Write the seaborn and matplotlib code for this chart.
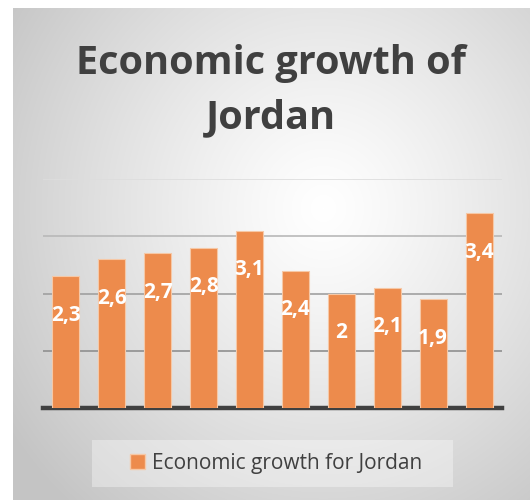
import numpy as np
import pandas as pd
import matplotlib
matplotlib.use("Agg")
import matplotlib.pyplot as plt
import seaborn as sns
from matplotlib.patches import Patch, Rectangle

categories = ["1", "2", "3", "4", "5", "6", "7", "8", "9", "10"]
values = [2.3, 2.6, 2.7, 2.8, 3.1, 2.4, 2.0, 2.1, 1.9, 3.4]
value_labels = ["2,3", "2,6", "2,7", "2,8", "3,1", "2,4", "2", "2,1", "1,9", "3,4"]
series_name = "Economic growth for Jordan"
title = "Economic growth of\nJordan"

sns.set_theme(style="white")
plt.rcParams["font.family"] = ["Open Sans", "DejaVu Sans"]

W, H = 530, 500
fig = plt.figure(figsize=(W / 100, H / 100), dpi=100)
fig.patch.set_facecolor("white")

# background radial gradient
bg = fig.add_axes([13 / W, 0, (W - 13) / W, (H - 8) / H])
bg.set_axis_off()
yy, xx = np.mgrid[0:H - 8, 0:W - 13]
cx, cy = 310, 200
r = np.sqrt(((xx - cx) / 1.0) ** 2 + ((yy - cy) / 1.05) ** 2)
t = np.clip(r / 380, 0, 1)
g = 1.0 - 0.23 * t ** 1.2
img = np.dstack([g, g, g])
bg.imshow(img, aspect="auto", extent=[0, 1, 0, 1], origin="upper")
bg.set_xlim(0, 1)
bg.set_ylim(0, 1)

# legend box
fig.patches.append(Rectangle((92 / W, 1 - 487 / H), (453 - 92) / W, 47 / H,
                             transform=fig.transFigure, facecolor=(1, 1, 1, 0.35),
                             edgecolor="none", zorder=1))

df = pd.DataFrame({"cat": categories, "val": values})

ax = fig.add_axes([43 / W, (H - 408) / H, (502 - 43) / W, (408 - 179) / H])
ax.patch.set_alpha(0)
sns.barplot(data=df, x="cat", y="val", color="#ED8B4C", width=0.59,
            edgecolor="#F6C8A6", linewidth=0.8, saturation=1, ax=ax, zorder=3)
ax.set_ylim(0, 4)
ax.set_xlim(-0.5, len(categories) - 0.5)
ax.set_yticks([1, 2, 3, 4])
ax.yaxis.grid(True, color="#9a9a9a", linewidth=1.2, zorder=0)
ax.set_axisbelow(True)
for gl, c in zip(ax.get_ygridlines(), ["#8f8f8f", "#a0a0a0", "#b8b8b8", "#dddddd"]):
    gl.set_color(c)
for s in ["top", "right", "left"]:
    ax.spines[s].set_visible(False)
ax.spines["bottom"].set_color("#404040")
ax.spines["bottom"].set_linewidth(3.2)
ax.set_xticks([])
ax.set_yticklabels([])
ax.tick_params(left=False, bottom=False)
ax.set_xlabel("")
ax.set_ylabel("")

for p, lab in zip(ax.patches, value_labels):
    x = p.get_x() + p.get_width() / 2
    ax.annotate(lab, (x, p.get_height()), xytext=(0, -28), textcoords="offset points",
                ha="center", va="center", color="white", fontsize=15,
                fontweight="bold", zorder=5)

fig.text(0.512, 1 - 91 / H, title, ha="center", va="center", fontsize=28.5,
         fontweight="bold", color="#404040", linespacing=1.5)

leg = fig.legend(handles=[Patch(facecolor="#ED8B4C", edgecolor="#F6C8A6", label=series_name)],
                 loc="center", bbox_to_anchor=((128 + 425) / 2 / W, 1 - 463 / H),
                 frameon=False, fontsize=15, handlelength=0.7, handleheight=0.7,
                 handletextpad=0.35, borderpad=0.2, borderaxespad=0)
for txt in leg.get_texts():
    txt.set_color("#404040")

fig.savefig("out.png", dpi=100)
